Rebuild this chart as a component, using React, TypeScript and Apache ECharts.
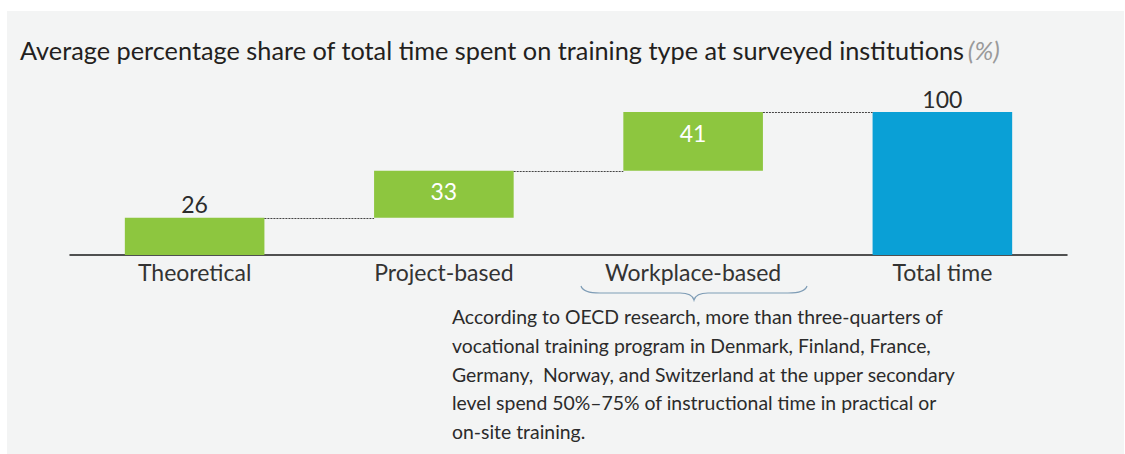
import React, { useEffect, useRef } from "react";
import * as echarts from "echarts";

const categories = ["Theoretical", "Project-based", "Workplace-based", "Total time"];
const baseValues = [0, 26, 59, 0];
const stepValues = [26, 33, 41, 100];
const connectorLevels = [26, 59, 100];
const titleText = "Average percentage share of total time spent on training type at surveyed institutions";
const noteLines = [
  "According to OECD research, more than three-quarters of",
  "vocational training program in Denmark, Finland, France,",
  "Germany,  Norway, and Switzerland at the upper secondary",
  "level spend 50%\u201375% of instructional time in practical or",
  "on-site training.",
];

const GREEN = "#8dc63f";
const BLUE = "#0aa0d6";
const FONT = "Lato";
const W = "normal";
const BAR_RATIO = 0.56;

const bracePath =
  "M0 0 Q2 7 19 7 L99 7 Q111 7 113 14 Q115 7 127 7 L207 7 Q224 7 226 0";
echarts.graphic.registerShape("brace", echarts.graphic.extendPath(bracePath, {}) as any);

export default function App() {
  const ref = useRef<HTMLDivElement>(null);
  useEffect(() => {
    document.body.style.margin = "0";
    if (!ref.current) return;
    const chart = echarts.init(ref.current, undefined, { renderer: "svg" });
    chart.setOption({
      animation: false,
      backgroundColor: "#ffffff",
      textStyle: { fontFamily: FONT, fontWeight: W },
      grid: { left: 70, right: 58, top: 112, bottom: 199 },
      xAxis: {
        type: "category",
        data: categories,
        axisLine: { show: true, lineStyle: { color: "#1a1a1a", width: 1.5 } },
        axisTick: { show: false },
        axisLabel: { color: "#333333", fontSize: 23, fontFamily: FONT, fontWeight: W, margin: 5, interval: 0 },
      },
      yAxis: { type: "value", min: 0, max: 100, show: false },
      graphic: [
        { type: "rect", z: -10, shape: { x: 7, y: 11, width: 1117, height: 443 }, style: { fill: "#f3f4f4" }, silent: true },
        {
          type: "text", left: 20, top: 37,
          style: {
            text: "{a|" + titleText + "} {b|(%)}",
            rich: {
              a: { fontSize: 25.3, fontFamily: FONT, fontWeight: W, fill: "#231f20" },
              b: { fontSize: 25.3, fontFamily: FONT, fontWeight: W, fill: "#9a9a9a", fontStyle: "italic" },
            },
          },
        },
        {
          type: "brace", x: 581, y: 286,
          style: { fill: "none", stroke: "#7f9db6", lineWidth: 1.2 },
        },
        {
          type: "text", left: 452, top: 302,
          style: { text: noteLines.join("\n"), fontSize: 19.4, lineHeight: 28.8, fontFamily: FONT, fontWeight: W, fill: "#2b2b2b" },
        },
      ],
      series: [
        {
          type: "bar", stack: "w", data: baseValues, barWidth: BAR_RATIO * 100 + "%",
          itemStyle: { color: "transparent" }, silent: true,
        },
        {
          type: "bar", stack: "w", barWidth: BAR_RATIO * 100 + "%",
          data: stepValues.map((v, i) => ({
            value: v,
            itemStyle: { color: i === stepValues.length - 1 ? BLUE : GREEN },
            label: i === 0 || i === stepValues.length - 1
              ? { show: true, position: "top", color: "#2b2b2b", distance: 2 }
              : { show: true, position: "insideTop", color: "#ffffff", distance: 9 },
          })),
          label: { fontSize: 23, fontFamily: FONT, fontWeight: W },
        },
        {
          type: "custom",
          data: connectorLevels.map((v, i) => [i, v]),
          z: 5,
          renderItem: (params: any, api: any) => {
            const i = api.value(0);
            const v = api.value(1);
            const p1 = api.coord([i, v]);
            const p2 = api.coord([i + 1, v]);
            const band = api.size([1, 0])[0];
            const half = (band * BAR_RATIO) / 2;
            const y = Math.round(p1[1]) + 0.5;
            return {
              type: "line",
              shape: { x1: p1[0] + half, y1: y, x2: p2[0] - half, y2: y },
              style: { stroke: "#444444", lineWidth: 1, lineDash: [2, 1] },
            };
          },
        },
      ],
    });
    return () => chart.dispose();
  }, []);
  return <div ref={ref} style={{ width: 1125, height: 454 }} />;
}
